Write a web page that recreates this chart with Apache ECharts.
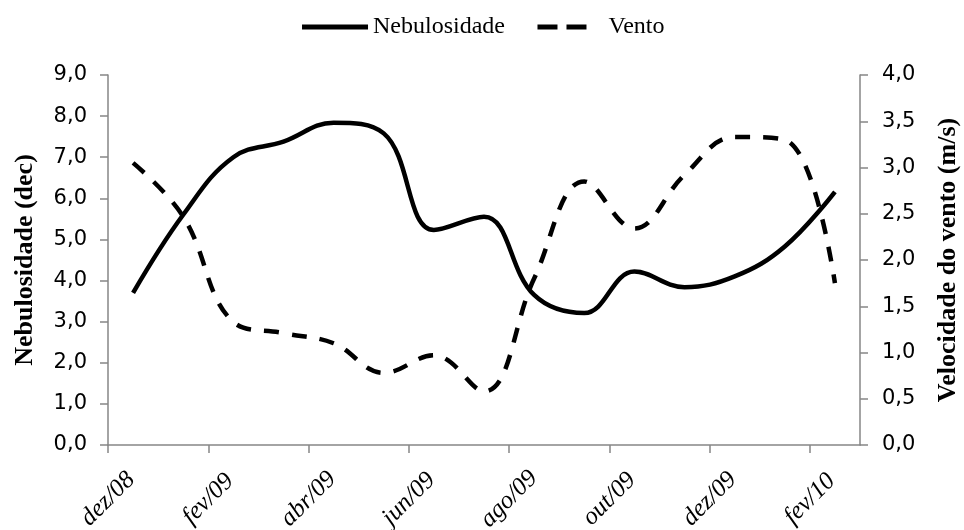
<!DOCTYPE html>
<html><head><meta charset="utf-8">
<script src="https://cdn.jsdelivr.net/npm/echarts@6/dist/echarts.min.js"></script>
<style>html,body{margin:0;padding:0;background:#fff}#c{width:964px;height:530px}</style>
</head><body><div id="c"></div>
<script>
// monthly values, mid-month, dez/08 .. fev/10
const months = ['dez/08','jan/09','fev/09','mar/09','abr/09','mai/09','jun/09','jul/09','ago/09','set/09','out/09','nov/09','dez/09','jan/10','fev/10'];
const nebulosidade = [3.70, 5.60, 7.00, 7.38, 7.84, 7.58, 5.23, 5.55, 3.65, 3.21, 4.22, 3.84, 4.10, 4.83, 6.16];
const vento = [3.05, 2.47, 1.33, 1.21, 1.10, 0.78, 0.97, 0.58, 1.80, 2.85, 2.34, 2.92, 3.33, 3.30, 1.75];
const tickLabels = ['dez/08','fev/09','abr/09','jun/09','ago/09','out/09','dez/09','fev/10'];

const axisColor = '#868686';
const tickPos = tickLabels.map((_, i) => i * 2);
const nebData = nebulosidade.map((v, i) => [i + 0.5, v]);
const ventoData = vento.map((v, i) => [i + 0.5, v]);
const fmt = v => v.toFixed(1).replace('.', ',');

const chart = echarts.init(document.getElementById('c'));
chart.setOption({
  animation: false,
  backgroundColor: '#fff',
  legend: {
    top: 10, left: 'center',
    itemWidth: 66, itemHeight: 14, itemGap: 30,
    itemStyle: { color: 'rgba(0,0,0,0)', borderWidth: 0, opacity: 0 },
    lineStyle: { width: 5, color: '#000' },
    textStyle: { fontFamily: 'Liberation Serif', fontSize: 24, color: '#000' },
    data: [
      { name: 'Nebulosidade', lineStyle: { type: 'solid', width: 5 } },
      { name: 'Vento', lineStyle: { type: [20, 9, 20, 17], width: 5 } }
    ]
  },
  grid: { left: 108, right: 104, top: 75, bottom: 85, containLabel: false, outerBoundsMode: 'none' },
  xAxis: {
    type: 'value', min: 0, max: 15, interval: 2,
    splitLine: { show: false },
    axisLine: { lineStyle: { color: axisColor, width: 1.5 } },
    axisTick: { length: 8, lineStyle: { color: axisColor, width: 1.5 }, customValues: tickPos },
    axisLabel: {
      customValues: tickPos,
      rotate: 45, margin: 54, align: 'center', verticalAlign: 'middle',
      fontFamily: 'Liberation Serif', fontStyle: 'italic', fontSize: 25, color: '#000',
      formatter: v => tickLabels[Math.round(v / 2)] || ''
    }
  },
  yAxis: [{
    type: 'value', min: 0, max: 9, interval: 1, position: 'left',
    name: 'Nebulosidade (dec)', nameLocation: 'middle', nameGap: 70, nameRotate: 90,
    nameTextStyle: { fontFamily: 'Liberation Serif', fontWeight: 'bold', fontSize: 26, color: '#000' },
    splitLine: { show: false },
    axisLine: { show: true, lineStyle: { color: axisColor, width: 1.5 } },
    axisTick: { show: true, length: 8, lineStyle: { color: axisColor, width: 1.5 } },
    axisLabel: { margin: 21, fontFamily: 'DejaVu Sans', fontSize: 21, color: '#000', formatter: fmt }
  }, {
    type: 'value', min: 0, max: 4, interval: 0.5, position: 'right',
    name: 'Velocidade do vento (m/s)', nameLocation: 'middle', nameGap: 75, nameRotate: 90,
    nameTextStyle: { fontFamily: 'Liberation Serif', fontWeight: 'bold', fontSize: 26, color: '#000' },
    splitLine: { show: false },
    axisLine: { show: true, lineStyle: { color: axisColor, width: 1.5 } },
    axisTick: { show: true, length: 8, lineStyle: { color: axisColor, width: 1.5 } },
    axisLabel: { margin: 22, fontFamily: 'DejaVu Sans', fontSize: 21, color: '#000', formatter: fmt }
  }],
  series: [{
    name: 'Nebulosidade', type: 'line', yAxisIndex: 0, data: nebData,
    smooth: 0.4, symbol: 'none', showSymbol: false,
    lineStyle: { color: '#000', width: 4.5 }, itemStyle: { color: '#000' }
  }, {
    name: 'Vento', type: 'line', yAxisIndex: 1, data: ventoData,
    smooth: 0.4, symbol: 'none', showSymbol: false,
    lineStyle: { color: '#000', width: 4.5, type: [15, 13] }, itemStyle: { color: '#000' }
  }]
});
</script></body></html>
